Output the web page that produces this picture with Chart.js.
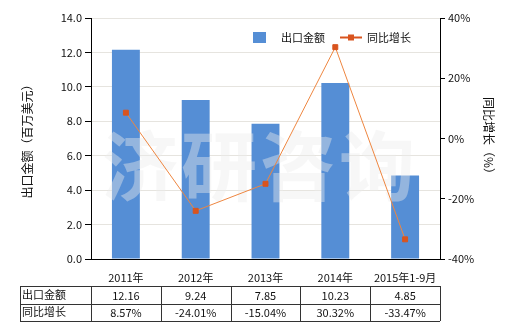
<!DOCTYPE html>
<html><head><meta charset="utf-8">
<script src="https://cdn.jsdelivr.net/npm/chart.js@4/dist/chart.umd.min.js"></script>
<style>html,body{margin:0;padding:0;background:#fff}#wrap{width:520px;height:330px}</style>
</head><body><div id="wrap"><canvas id="c" width="520" height="330"></canvas></div>
<script>
const categories = ['2011年', '2012年', '2013年', '2014年', '2015年1-9月'];
const exportValues = [12.16, 9.24, 7.85, 10.23, 4.85];
const growthValues = [8.57, -24.01, -15.04, 30.32, -33.47];
const exportLabels = ['12.16', '9.24', '7.85', '10.23', '4.85'];
const growthLabels = ['8.57%', '-24.01%', '-15.04%', '30.32%', '-33.47%'];
const seriesNames = ['出口金额', '同比增长'];
const watermark = '济研咨询';

const FONT = '"Noto Sans CJK SC", "DejaVu Sans", sans-serif';
const BAR = '#558ED5';
const LINE = '#EE8640';
const MARK = '#D9541E';

const watermarkPlugin = {
  id: 'watermarkPlugin',
  beforeDatasetDraw(chart, args) {
    if (args.index !== 0) return;
    const ctx = chart.ctx;
    ctx.save();
    ctx.fillStyle = 'rgba(235,235,235,0.42)';
    ctx.font = 'bold 76px ' + FONT;
    ctx.textAlign = 'center';
    ctx.textBaseline = 'middle';
    const chars = Array.from(watermark);
    chars.forEach((ch, i) => ctx.fillText(ch, 140 + i * 79, 166));
    ctx.restore();
  }
};

const tablePlugin = {
  id: 'tablePlugin',
  afterDraw(chart) {
    const ctx = chart.ctx, x = chart.scales.x, area = chart.chartArea;
    const n = categories.length;
    const step = (area.right - area.left) / n;
    const left = 20, top = 286, rh = 17.5;
    ctx.save();
    ctx.strokeStyle = '#333';
    ctx.lineWidth = 1;
    for (let r = 0; r <= 2; r++) {
      const y = Math.round(top + r * rh) + 0.5;
      ctx.beginPath(); ctx.moveTo(left, y); ctx.lineTo(area.right, y); ctx.stroke();
    }
    const xs = [left, area.left];
    for (let i = 1; i <= n; i++) xs.push(area.left + i * step);
    xs.forEach(v => {
      const xx = Math.round(v) + 0.5;
      ctx.beginPath(); ctx.moveTo(xx, top); ctx.lineTo(xx, top + 2 * rh); ctx.stroke();
    });
    ctx.fillStyle = '#111';
    ctx.font = '11px ' + FONT;
    ctx.textBaseline = 'middle';
    ctx.textAlign = 'left';
    ctx.fillText(seriesNames[0], left + 2, top + rh / 2);
    ctx.fillText(seriesNames[1], left + 2, top + rh * 1.5);
    ctx.textAlign = 'center';
    for (let i = 0; i < n; i++) {
      const cx = x.getPixelForValue(i);
      ctx.fillText(exportLabels[i], cx, top + rh / 2 + 1);
      ctx.fillText(growthLabels[i], cx, top + rh * 1.5 + 1);
    }
    // legend
    ctx.textAlign = 'left';
    ctx.fillStyle = BAR;
    ctx.fillRect(253, 32, 13, 11);
    ctx.fillStyle = '#111';
    ctx.fillText(seriesNames[0], 281, 37.5);
    ctx.strokeStyle = MARK; ctx.lineWidth = 2;
    ctx.beginPath(); ctx.moveTo(340, 37.5); ctx.lineTo(362, 37.5); ctx.stroke();
    ctx.fillStyle = MARK;
    ctx.fillRect(348, 34.5, 6, 6);
    ctx.fillStyle = '#111';
    ctx.fillText(seriesNames[1], 367, 37.5);
    ctx.restore();
  }
};

new Chart(document.getElementById('c'), {
  data: {
    labels: categories,
    datasets: [
      { type: 'line', label: seriesNames[1], data: growthValues, yAxisID: 'y2',
        borderColor: LINE, borderWidth: 1, backgroundColor: MARK,
        pointStyle: 'rect', pointRadius: 3.5, pointBackgroundColor: MARK, pointBorderColor: MARK,
        tension: 0, order: 0 },
      { type: 'bar', label: seriesNames[0], data: exportValues, yAxisID: 'y',
        backgroundColor: BAR, barPercentage: 0.4, categoryPercentage: 1, order: 1 }
    ]
  },
  options: {
    responsive: false,
    animation: false,
    layout: { padding: { left: 20, right: 24, top: 18, bottom: 46 } },
    plugins: { legend: { display: false }, tooltip: { enabled: false } },
    scales: {
      x: {
        grid: { display: false },
        border: { color: '#000' },
        ticks: { color: '#111', font: { family: FONT, size: 11 }, maxRotation: 0, padding: 4 },
        afterFit(s) { s.height = 25; }
      },
      y: {
        position: 'left', min: 0, max: 14,
        ticks: { stepSize: 2, color: '#111', font: { family: FONT, size: 11 },
          callback: v => v.toFixed(1), padding: 3 },
        grid: { color: '#e6e4df', tickLength: 6, tickColor: '#000' },
        border: { color: '#000' },
        title: { display: true, text: '出口金额（百万美元）', color: '#111', font: { family: FONT, size: 12 }, padding: 0 },
        afterFit(s) { s.width = 71; }
      },
      y2: {
        position: 'right', min: -40, max: 40,
        ticks: { stepSize: 20, color: '#111', font: { family: FONT, size: 11 },
          callback: v => v + '%', padding: 3 },
        grid: { drawOnChartArea: false, tickLength: 5, tickColor: '#000' },
        border: { color: '#000' },
        title: { display: true, text: '同比增长（%）', color: '#111', font: { family: FONT, size: 12 }, padding: 0 },
        afterFit(s) { s.width = 56; }
      }
    }
  },
  plugins: [watermarkPlugin, tablePlugin]
});
</script></body></html>
